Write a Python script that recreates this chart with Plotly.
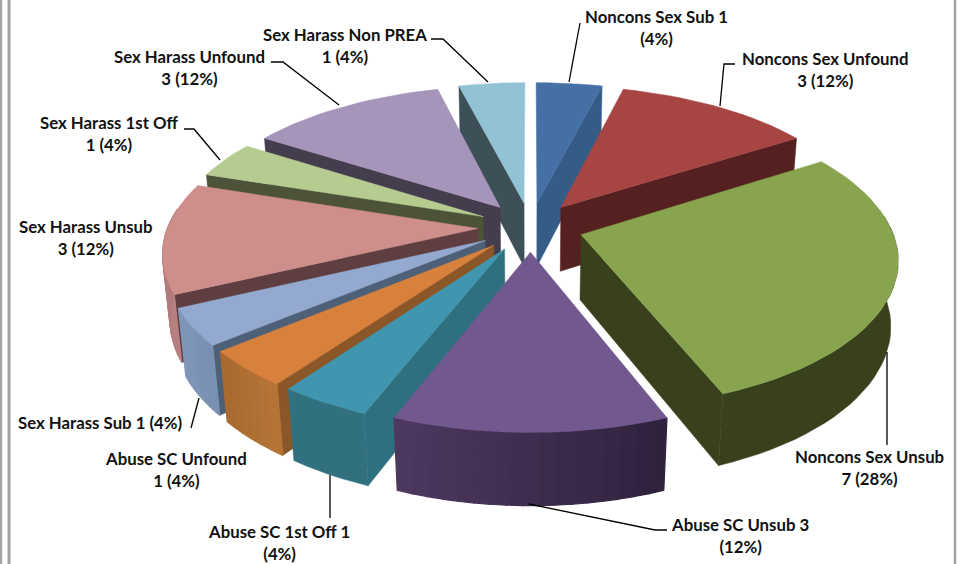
import math
import plotly.graph_objects as go

# ---- data ----
names = ["Noncons Sex Sub 1", "Noncons Sex Unfound", "Noncons Sex Unsub", "Abuse SC Unsub 3",
         "Abuse SC 1st Off 1", "Abuse SC Unfound", "Sex Harass Sub 1", "Sex Harass Unsub",
         "Sex Harass 1st Off", "Sex Harass Unfound", "Sex Harass Non PREA"]
values = [1, 3, 7, 3, 1, 1, 1, 3, 1, 3, 1]
label_fmt = ["{n}<br>({p}%)", "{n}<br>{v} ({p}%)", "{n}<br>{v} ({p}%)", "{n}<br>({p}%)",
             "{n}<br>({p}%)", "{n}<br>{v} ({p}%)", "{n} ({p}%)", "{n}<br>{v} ({p}%)",
             "{n}<br>{v} ({p}%)", "{n}<br>{v} ({p}%)", "{n}<br>{v} ({p}%)"]
label_x = [656, 825, 869, 740, 279, 176, 100, 86, 109, 189, 345]
label_y = [27, 69, 467, 535, 542, 469, 422, 237, 133, 67, 45]
leaders = [[(569, 82), (580, 23)],
           [(720, 106), (724, 64), (735, 64)],
           [(887, 352), (887, 445)],
           [(529, 504), (655, 530), (667, 530)],
           [(330, 475), (330, 518)],
           [],
           [(199, 398), (191, 428)],
           [],
           [(220, 160), (194, 129), (184, 129)],
           [(339, 105), (283, 62), (271, 62)],
           [(488, 82), (443, 39), (431, 39)]]

top_col = ["#4570A5", "#A74543", "#88A44E", "#71588F", "#3F96AE", "#D8813D",
           "#93A9CF", "#CE8E8B", "#B6CB90", "#A695BA", "#92C3D4"]
side_col = ["#355B87", "#552020", "#38401C", "#4B3759", "#2F7080", "#8B5728",
            "#4E5F78", "#5E3E40", "#4C5339", "#443D4E", "#3D4F57"]
rim_a = ["#355B87", "#552020", "#38401C", "#2F223D", "#30707F", "#B57436",
         "#7A90B2", "#B88080", "#4C5339", "#443D4E", "#3D4F57"]
rim_b = ["#355B87", "#552020", "#38401C", "#4D385F", "#30707F", "#A96A30",
         "#8096B8", "#A87474", "#4C5339", "#443D4E", "#3D4F57"]

# ---- projection parameters ----
CX, CY, A, B, K, M, DEPTH, EXPLODE = 530.5, 227, 310, 145, 0.149, 0.02, 66, 0.17


def project(x, y, bottom=False):
    w = 1 + K * y
    if bottom:
        w += M
        return CX + A * x / w, CY - (B * y - DEPTH) / w
    return CX + A * x / w, CY - B * y / w


def hex2rgb(c):
    return tuple(int(c[i:i + 2], 16) for i in (1, 3, 5))


def mix(c1, c2, t):
    a, b = hex2rgb(c1), hex2rgb(c2)
    return "rgb(%d,%d,%d)" % tuple(round(a[i] + (b[i] - a[i]) * t) for i in range(3))


fig = go.Figure()


def poly(pts, color, lw=0.5):
    xs = [p[0] for p in pts] + [pts[0][0]]
    ys = [p[1] for p in pts] + [pts[0][1]]
    fig.add_trace(go.Scatter(x=xs, y=ys, mode="lines", fill="toself", fillcolor=color,
                             line=dict(color=color, width=lw), hoverinfo="skip", showlegend=False))


total = sum(values)
slices = []
cum = 0
for i, v in enumerate(values):
    a0 = cum / total * 2 * math.pi
    cum += v
    a1 = cum / total * 2 * math.pi
    slices.append((i, a0, a1))
slices.sort(key=lambda s: -math.cos((s[1] + s[2]) / 2))

for i, a0, a1 in slices:
    mid = (a0 + a1) / 2
    ox, oy = EXPLODE * math.sin(mid), EXPLODE * math.cos(mid)
    n = max(6, int((a1 - a0) / math.radians(2.5)))
    angs = [a0 + (a1 - a0) * j / n for j in range(n + 1)]
    rim = [(ox + math.sin(t), oy + math.cos(t)) for t in angs]
    # radial walls, only those that face the viewer
    if math.sin(a0) < -1e-6:
        p = rim[0]
        poly([project(ox, oy), project(*p), project(*p, bottom=True), project(ox, oy, bottom=True)], side_col[i])
    if math.sin(a1) > 1e-6:
        p = rim[-1]
        poly([project(ox, oy), project(*p), project(*p, bottom=True), project(ox, oy, bottom=True)], side_col[i])
    # outer wall, front-facing part only
    vis = [j for j in range(n) if math.cos((angs[j] + angs[j + 1]) / 2) < 0.12]
    if vis:
        if rim_a[i] == rim_b[i]:
            sub = rim[vis[0]:vis[-1] + 2]
            poly([project(*p) for p in sub] + [project(*p, bottom=True) for p in reversed(sub)], rim_a[i])
        else:
            for j in vis:
                p, q = rim[j], rim[j + 1]
                poly([project(*p), project(*q), project(*q, bottom=True), project(*p, bottom=True)],
                     mix(rim_a[i], rim_b[i], j / max(1, n - 1)), lw=1.2)
    # top
    poly([project(ox, oy)] + [project(*p) for p in rim], top_col[i])

for seg in leaders:
    if seg:
        fig.add_trace(go.Scatter(x=[p[0] for p in seg], y=[p[1] for p in seg], mode="lines",
                                 line=dict(color="#000000", width=1.3), hoverinfo="skip", showlegend=False))

for i, n in enumerate(names):
    v = values[i]
    txt = label_fmt[i].format(n=n, v=v, p=round(v / total * 100))
    fig.add_annotation(x=label_x[i], y=label_y[i], xref="x", yref="y", text="<b>" + txt + "</b>",
                       showarrow=False, align="center", font=dict(family="Lato", size=16.8, color="#111111"))

fig.update_layout(width=968, height=564, margin=dict(l=0, r=0, t=0, b=0), showlegend=False,
                  paper_bgcolor="white", plot_bgcolor="white",
                  xaxis=dict(range=[0, 968], visible=False, fixedrange=True),
                  yaxis=dict(range=[564, 0], visible=False, fixedrange=True),
                  shapes=[dict(type="line", xref="x", yref="y", x0=x, x1=x, y0=0, y1=564,
                               line=dict(color="#A3A3A3", width=w))
                          for x, w in [(1, 2.5), (9, 3), (955, 2.5)]])
fig.write_html("out.html", config={"displayModeBar": False},
               post_script="document.body.style.margin='0';document.body.style.overflow='hidden';")
